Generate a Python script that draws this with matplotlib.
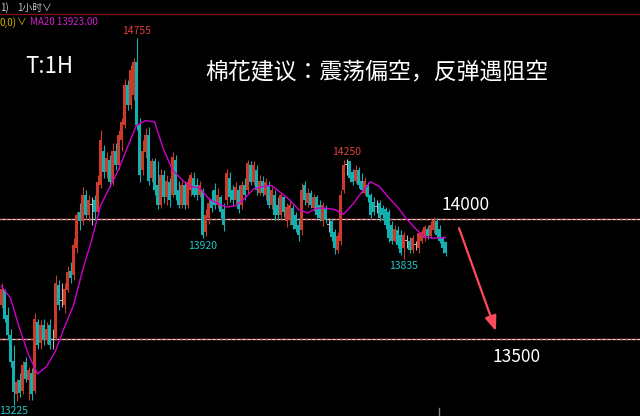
import matplotlib
matplotlib.use("Agg")
import matplotlib.pyplot as plt
import numpy as np

plt.rcParams["font.family"] = ["Noto Sans CJK SC", "DejaVu Sans"]

# 1-hour cotton futures candles
OPEN = [13640, 13705, 13600, 13515, 13410, 13270, 13330, 13285, 13405, 13330,
        13360, 13285, 13570, 13485, 13560, 13495, 13560, 13495, 13505, 13725,
        13660, 13640, 13705, 13785, 13765, 13880, 14030, 13990, 14100, 14015,
        14060, 14080, 14030, 14140, 14285, 14195, 14245, 14155, 14285, 14225,
        14330, 14390, 14560, 14475, 14515, 14655, 14390, 14205, 14280, 14350,
        14170, 14240, 14140, 14060, 14185, 14090, 14155, 14100, 14245, 14120,
        14060, 14140, 14060, 14120, 14170, 14140, 14100, 14120, 13945, 14005,
        14080, 14120, 14060, 14090, 14040, 14080, 14170, 14120, 14080, 14120,
        14060, 14140, 14120, 14225, 14155, 14205, 14110, 14160, 14100, 14140,
        14060, 14100, 14060, 14015, 14090, 13990, 13995, 14045, 14015, 13975,
        13955, 14140, 14065, 14110, 14045, 14090, 14060, 13990, 14045, 13975,
        13990, 13945, 13870, 13910, 14120, 14225, 14240, 14195, 14160, 14205,
        14160, 14110, 14140, 14100, 14070, 14050, 14065, 14045, 14040, 14030,
        13975, 13910, 13955, 13935, 13880, 13910, 13910, 13870, 13890, 13880,
        13910, 13920, 13960, 13930, 13955, 13990, 13960, 13920, 13905]
HIGH = [13735, 13710, 13635, 13540, 13475, 13335, 13360, 13410, 13425, 13385,
        13380, 13610, 13585, 13580, 13585, 13570, 13585, 13540, 13765, 13745,
        13735, 13735, 13805, 13820, 13920, 14030, 14065, 14135, 14120, 14100,
        14090, 14100, 14185, 14370, 14310, 14280, 14265, 14315, 14315, 14370,
        14420, 14585, 14580, 14640, 14670, 14755, 14420, 14330, 14380, 14385,
        14255, 14255, 14240, 14210, 14205, 14185, 14170, 14280, 14265, 14160,
        14160, 14155, 14170, 14195, 14195, 14170, 14160, 14130, 14040, 14090,
        14120, 14150, 14130, 14100, 14065, 14210, 14195, 14140, 14155, 14140,
        14160, 14170, 14245, 14240, 14240, 14225, 14185, 14180, 14170, 14160,
        14135, 14120, 14090, 14110, 14100, 14065, 14080, 14060, 14030, 14005,
        14150, 14160, 14130, 14120, 14105, 14100, 14080, 14070, 14060, 14005,
        14000, 13960, 13945, 14120, 14245, 14250, 14240, 14210, 14225, 14215,
        14190, 14175, 14155, 14110, 14090, 14080, 14080, 14060, 14050, 14040,
        13990, 13975, 13970, 13955, 13945, 13935, 13925, 13935, 13910, 13945,
        13960, 13975, 13975, 13990, 14010, 14005, 13975, 13930, 13910]
LOW = [13630, 13570, 13495, 13385, 13225, 13240, 13260, 13270, 13320, 13245,
       13245, 13275, 13460, 13460, 13475, 13480, 13460, 13460, 13495, 13620,
       13635, 13610, 13695, 13735, 13745, 13860, 13955, 13975, 14005, 13990,
       13975, 13995, 14020, 14130, 14170, 14170, 14135, 14140, 14205, 14210,
       14285, 14380, 14455, 14460, 14495, 14370, 14155, 14185, 14255, 14140,
       14155, 14100, 14040, 14045, 14065, 14060, 14050, 14090, 14080, 14045,
       14045, 14040, 14045, 14095, 14090, 14080, 14090, 13920, 13930, 13980,
       14030, 14040, 14045, 14005, 13950, 14060, 14070, 14060, 14060, 14025,
       14040, 14080, 14110, 14140, 14140, 14100, 14100, 14095, 14080, 14045,
       14040, 13995, 13995, 14005, 14010, 13965, 13975, 13960, 13945, 13910,
       13935, 14060, 14050, 14045, 14035, 14005, 13990, 13970, 13985, 13945,
       13910, 13855, 13860, 13890, 14110, 14185, 14155, 14140, 14150, 14130,
       14110, 14100, 14070, 14005, 14015, 14025, 13990, 13995, 13960, 13905,
       13895, 13905, 13880, 13850, 13835, 13880, 13860, 13860, 13870, 13860,
       13900, 13910, 13915, 13920, 13940, 13920, 13900, 13860, 13845]
CLOSE = [13710, 13585, 13515, 13405, 13280, 13320, 13275, 13390, 13335, 13370,
         13270, 13585, 13475, 13560, 13495, 13540, 13475, 13495, 13735, 13640,
         13660, 13710, 13780, 13755, 13890, 14015, 13990, 14100, 14015, 14080,
         14060, 14030, 14155, 14330, 14195, 14255, 14155, 14285, 14225, 14350,
         14405, 14560, 14475, 14620, 14655, 14390, 14185, 14285, 14350, 14160,
         14240, 14120, 14060, 14185, 14090, 14160, 14080, 14260, 14100, 14060,
         14140, 14060, 14155, 14185, 14100, 14100, 14140, 13935, 14015, 14065,
         14045, 14060, 14100, 14030, 13975, 14190, 14090, 14080, 14135, 14040,
         14140, 14100, 14235, 14155, 14225, 14120, 14160, 14110, 14155, 14060,
         14120, 14015, 14015, 14100, 14030, 14050, 14060, 13975, 13960, 13935,
         14120, 14080, 14110, 14060, 14090, 14015, 14005, 14060, 13995, 13975,
         13925, 13880, 13930, 14100, 14225, 14225, 14170, 14155, 14205, 14140,
         14120, 14160, 14090, 14015, 14030, 14050, 14005, 14015, 13975, 13920,
         13910, 13960, 13890, 13860, 13935, 13910, 13870, 13920, 13890, 13940,
         13945, 13965, 13930, 13975, 13995, 13935, 13910, 13880, 13860]

# MA20 line as drawn on the screenshot (every third bar + last bar)
MA20_IDX = list(range(0, 148, 3)) + [148]
MA20 = [13720, 13670, 13545, 13435, 13355, 13385, 13450, 13550, 13640, 13785,
        13910, 14055, 14130, 14205, 14300, 14390, 14410, 14405, 14290, 14205,
        14165, 14135, 14130, 14085, 14065, 14050, 14055, 14085, 14125, 14135,
        14140, 14110, 14080, 14040, 14025, 14045, 14045, 14040, 14020, 14060,
        14110, 14155, 14135, 14090, 14050, 14000, 13960, 13925, 13920, 13922,
        13923]

LEVELS = [14000, 13500]
HIGH_MARKS = [45, 115]
LOW_MARKS = [67, 134]
FIRST_LOW = 4

UP = "#cc3a2c"
DOWN = "#14b0b0"
FLAT = "#b8b8b8"

o = np.array(OPEN)
h = np.array(HIGH)
l = np.array(LOW)
c = np.array(CLOSE)
x = np.arange(len(c))
colors = [UP if cc > oo else DOWN if cc < oo else FLAT for oo, cc in zip(o, c)]

fig = plt.figure(figsize=(6.4, 4.16), dpi=100, facecolor="black")
ax = fig.add_axes([0, 0, 1, 1])
ax.set_facecolor("black")
ax.set_xlim(-0.5, 212.83)
ax.set_ylim(13179.2, 14912.5)
ax.axis("off")

# level lines
for level in LEVELS:
    ax.axhline(level, color="#f2d6d0", lw=0.9, zorder=1)
    ax.axhline(level, color="#e04545", lw=0.9, dashes=(1.5, 2.5), zorder=1)

ax.vlines(x, l, h, colors=colors, lw=0.8, zorder=2)
bottoms = np.minimum(o, c)
heights = np.maximum(np.abs(c - o), 4)
ax.bar(x, heights, bottom=bottoms, width=0.78, color=colors, linewidth=0, zorder=3)

ax.plot(MA20_IDX, MA20, color="#d000d0", lw=1.0, zorder=4)

# high / low labels
for i in HIGH_MARKS:
    ax.annotate(str(HIGH[i]), xy=(i, HIGH[i]), xytext=(0, 1.5), textcoords="offset points",
                ha="center", va="bottom", fontsize=7.5, color="#e04040")
for i in LOW_MARKS:
    ax.annotate(str(LOW[i]), xy=(i, LOW[i]), xytext=(0, -2), textcoords="offset points",
                ha="center", va="top", fontsize=7.5, color="#22c8c8")
ax.annotate(str(LOW[FIRST_LOW]), xy=(FIRST_LOW, LOW[FIRST_LOW]), xytext=(0, -1),
            textcoords="offset points", ha="center", va="top", fontsize=7.5, color="#22c8c8")

# level texts
ax.text(146.5, 14058, str(LEVELS[0]), color="white", fontsize=12.5, ha="left", va="center")
ax.text(163.8, 13425, str(LEVELS[1]), color="white", fontsize=12.5, ha="left", va="center")

# arrow
ax.annotate("", xy=(164.8, 13533), xytext=(152.5, 13962),
            arrowprops=dict(arrowstyle="-|>,head_length=0.9,head_width=0.35",
                            color="#ff4a5a", lw=1.6, shrinkA=0, shrinkB=0))

ax.text(0.039, 0.839, "T:1H", transform=ax.transAxes, color="white", fontsize=16,
        ha="left", va="center")
ax.text(0.320, 0.825, "棉花建议：震荡偏空，反弹遇阻空", transform=ax.transAxes,
        color="white", fontsize=16.5, ha="left", va="center",
        family=["Noto Sans CJK JP", "DejaVu Sans"])

# header strip
ax.plot([0, 1], [0.966, 0.966], transform=ax.transAxes, color="#7a1414", lw=1.0)
fig.text(0.0, 0.981, "1)", color="#c8c8c8", fontsize=7, va="center")
fig.text(0.027, 0.981, "1小时∨", color="#c8c8c8", fontsize=7, va="center")
fig.text(0.0, 0.947, "0,0)", color="#d4b400", fontsize=7, va="center")
fig.text(0.026, 0.947, "∨", color="#d4b400", fontsize=7, va="center")
fig.text(0.047, 0.947, f"MA20 {MA20[-1]:.2f}", color="#d020d0", fontsize=7, va="center")

ax.axvline(145.8, ymax=0.02, color="#808080", lw=1)

fig.savefig("out.png", dpi=100, facecolor="black")
